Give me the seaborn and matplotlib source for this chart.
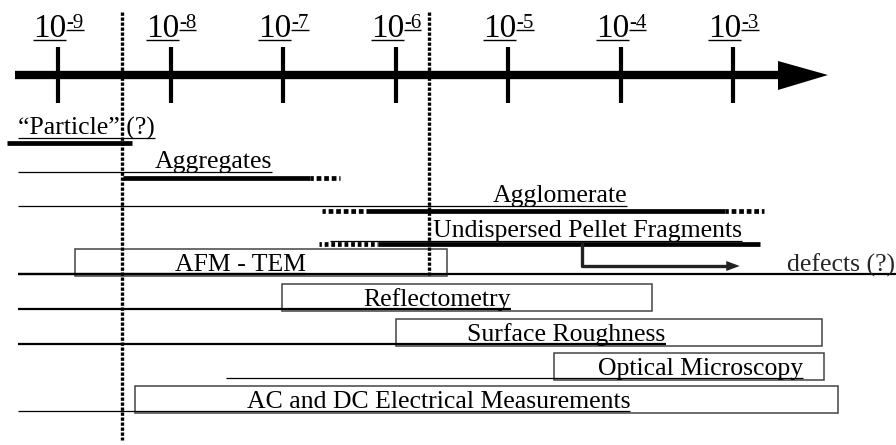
import numpy as np
import seaborn as sns
import matplotlib.pyplot as plt
from matplotlib.patches import Rectangle, Polygon

# size scale, log10 of size in metres
decades = [-9, -8, -7, -6, -5, -4, -3]
limits = [-8.43, -5.70]  # dotted vertical boundaries

particle = (-9.45, -8.34)
aggregates_solid = (-8.42, -6.76)
aggregates_dotted = (-6.76, -6.49)
agglomerate_solid = (-6.26, -3.07)
agglomerate_dotted = [(-6.65, -6.26), (-3.07, -2.72)]
pellet_solid = (-6.16, -2.76)
pellet_dotted = (-6.68, -6.16)
defects = (-4.34, -2.94)

techniques = ["AFM - TEM", "Reflectometry", "Surface Roughness",
              "Optical Microscopy", "AC and DC Electrical Measurements"]
tech_lo = [-8.85, -7.01, -6.00, -4.59, -8.32]
tech_hi = [-5.54, -3.72, -2.21, -2.19, -2.07]
tech_text_x = [-7.38, -5.63, -4.48, -3.29, -5.62]
tech_line_from = [-9.36, -9.36, -9.36, -7.51, -9.36]
tech_line_lw = [1.6, 1.6, 1.6, 0.9, 0.9]
tech_rows = [249, 284, 319, 353, 386]   # top of each box (px from top)

sns.set_theme(style="white")
plt.rcParams['font.family'] = ['Liberation Serif', 'DejaVu Serif']

fig = plt.figure(figsize=(8.96, 4.45), dpi=100)
ax = fig.add_axes([0, 0, 1, 1])
ax.set_xlim(-9.516, -1.551)
ax.set_ylim(445, 0)
ax.axis('off')
fig.canvas.draw()
renderer = fig.canvas.get_renderer()
inv = ax.transData.inverted()
LEFT = -9.36


def text_right(t):
    bb = t.get_window_extent(renderer)
    return inv.transform((bb.x1, bb.y0))[0]


def underlined(x, y, s, size=18.5, ha='left', line_from=None, lw=0.9, off=3.5):
    t = ax.text(x, y, s, fontsize=size, ha=ha, va='baseline', color='black')
    x1 = text_right(t)
    x0 = line_from
    if x0 is None:
        bb = t.get_window_extent(renderer)
        x0 = inv.transform((bb.x0, bb.y0))[0]
    ax.hlines(y + off, x0, x1, color='black', lw=lw)
    return x1


# scale axis with arrow
ax.hlines(75, -9.382, -2.55, color='black', lw=6)
ax.add_patch(Polygon([[-2.6, 61], [-2.156, 75], [-2.6, 90]], closed=True,
                     color='black', lw=0))
ax.vlines(decades, 47, 103, color='black', lw=3)
for d in decades:
    x1 = underlined(d + 0.075, 37, "10", size=24, ha='right', off=3, lw=1)
    underlined(x1, 28, "-%d" % abs(d), size=15, off=2, lw=1)

# dotted boundaries
ax.vlines(limits[0], 12, 440, color='black', lw=2.4, linestyles=(0, (1, 0.5)))
ax.vlines(limits[1], 12, 275, color='black', lw=2.4, linestyles=(0, (1, 0.5)))

# particle classes
underlined(-9.356, 135, "\u201cParticle\u201d (?)", off=2.5)
ax.hlines(143, *particle, color='black', lw=3.4)

underlined(-7.62, 168, "Aggregates", ha='center', line_from=LEFT)
ax.hlines(178, *aggregates_solid, color='black', lw=3.4)
ax.hlines(178, *aggregates_dotted, color='black', lw=3.4,
          linestyles=(0.3, (1, 0.6)))

underlined(-4.54, 202, "Agglomerate", ha='center', line_from=LEFT)
ax.hlines(211, *agglomerate_solid, color='black', lw=3.4)
for seg in agglomerate_dotted:
    ax.hlines(211, *seg, color='black', lw=3.4, linestyles=(0.3, (1, 0.6)))

underlined(-4.29, 237, "Undispersed Pellet Fragments", ha='center',
           line_from=-6.58)
ax.hlines(244, *pellet_solid, color='black', lw=3.4)
ax.hlines(244, *pellet_dotted, color='black', lw=3.4,
          linestyles=(0.3, (0.8, 0.6)))

# defects arrow
ax.plot([defects[0], defects[0], defects[1] - 0.1], [244, 266, 266],
        color='#222222', lw=2.4, solid_joinstyle='round')
ax.add_patch(Polygon([[defects[1] - 0.12, 261], [defects[1], 266],
                      [defects[1] - 0.12, 271]], closed=True,
                     color='#222222', lw=0))
ax.text(-2.52, 272, "defects (?)", fontsize=18.5, ha='left', va='baseline')

# techniques
for name, lo, hi, tx, lf, lw, top in zip(techniques, tech_lo, tech_hi,
                                         tech_text_x, tech_line_from,
                                         tech_line_lw, tech_rows):
    ax.add_patch(Rectangle((lo, top), hi - lo, 27, fill=False,
                           edgecolor='#444444', lw=1.1))
    underlined(tx, top + 22, name, ha='center', line_from=lf, lw=lw, off=2.5)

# AFM row line runs across the full width
ax.hlines(274, LEFT, -1.551, color='black', lw=1.6)

plt.savefig("out.png", dpi=100)
